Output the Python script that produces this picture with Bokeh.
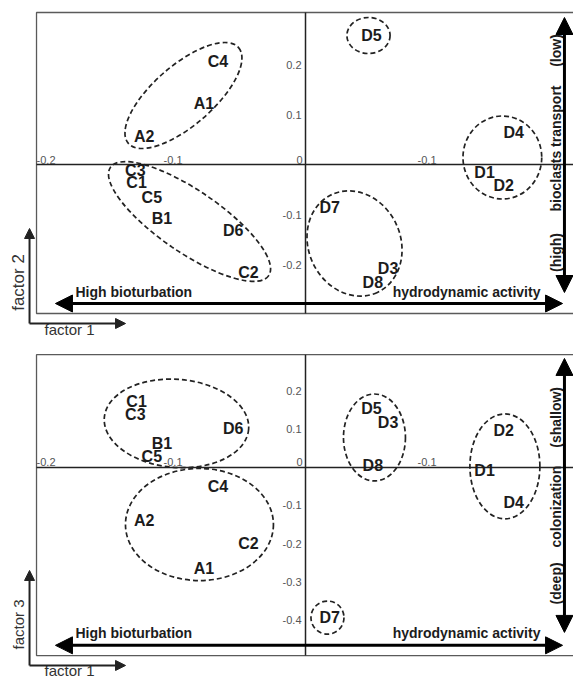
import math
from bokeh.plotting import figure
from bokeh.layouts import column
from bokeh.models import Range1d, Arrow, NormalHead, ColumnDataSource
from bokeh.core.properties import value
from bokeh.embed import file_html
from bokeh.resources import INLINE

# ---------------- data ----------------
samples = ["A1", "A2", "B1", "C1", "C2", "C3", "C4", "C5",
           "D1", "D2", "D3", "D4", "D5", "D6", "D7", "D8"]
factor1 = [-0.080, -0.127, -0.113, -0.133, -0.045, -0.134, -0.069, -0.121,
           0.141, 0.156, 0.065, 0.164, 0.052, -0.057, 0.019, 0.053]
factor2 = [0.122, 0.056, -0.108, -0.036, -0.216, -0.012, 0.206, -0.066,
           -0.016, -0.042, -0.208, 0.064, 0.258, -0.132, -0.086, -0.236]
factor3 = [-0.266, -0.139, 0.063, 0.174, -0.200, 0.139, -0.050, 0.029,
           -0.008, 0.097, 0.118, -0.092, 0.155, 0.103, -0.395, 0.005]

# group outlines (centre x, centre y, width, height, angle in rad)
groups12_x = [-0.0961, -0.0913, 0.0496, 0.155, 0.0386]
groups12_y = [0.138, -0.114, 0.258, 0.014, -0.158]
groups12_w = [0.115, 0.151, 0.034, 0.062, 0.085]
groups12_h = [0.120, 0.124, 0.072, 0.166, 0.184]
groups12_a = [0.716, -0.600, 0.0, 0.0, -1.134]

groups13_x = [-0.1016, -0.0835, 0.0543, 0.157, 0.0173]
groups13_y = [0.116, -0.150, 0.079, 0.003, -0.395]
groups13_w = [0.114, 0.1165, 0.0488, 0.0551, 0.026]
groups13_h = [0.232, 0.295, 0.229, 0.276, 0.087]
groups13_a = [-0.08, 0.0, 0.0, 0.0, 0.0]

xtick_vals = [-0.2, -0.1, 0.1]
xtick_labels = ["-0.2", "-0.1", "-0.1"]
origin_label = "0"
ytick_vals_top = [0.2, 0.1, -0.1, -0.2]
ytick_labels_top = ["0.2", "0.1", "-0.1", "-0.2"]
ytick_vals_bot = [0.2, 0.1, -0.1, -0.2, -0.3, -0.4]
ytick_labels_bot = ["0.2", "0.1", "-0.1", "-0.2", "-0.3", "-0.4"]

FONT = value("Liberation Sans")
DARK = "#1c1c1c"
XR = (-0.24016, 0.21102)


def make_panel(height, yr, fy, gx, gy, gw, gh, ga, ytv, ytl,
               frame_top, frame_bot, harrow_y, varrow, vlabels, ylabel,
               ylabel_size, mini):
    p = figure(width=573, height=height, output_backend="svg",
               toolbar_location=None, x_axis_type=None, y_axis_type=None,
               x_range=Range1d(*XR), y_range=Range1d(*yr),
               min_border=0, min_border_left=0, min_border_right=0,
               min_border_top=0, min_border_bottom=0)
    p.outline_line_color = None
    p.xgrid.visible = False
    p.ygrid.visible = False
    p.background_fill_color = "white"
    p.border_fill_color = "white"

    # frame box
    p.quad(left=[-0.2118], right=[0.2160], top=[frame_top], bottom=[frame_bot],
           fill_color=None, line_color="#5a5a5a", line_width=1.3)
    # central axes
    p.segment(x0=[-0.2118], y0=[0], x1=[0.2160], y1=[0], line_color="#222222", line_width=1.5)
    p.segment(x0=[0], y0=[frame_top], x1=[0], y1=[frame_bot], line_color="#222222", line_width=1.5)

    # tick labels
    p.text(x=xtick_vals, y=[0] * len(xtick_vals), text=xtick_labels,
           text_align="right", text_baseline="bottom", x_offset=4, y_offset=-1,
           text_font=FONT, text_font_size="11px", text_color="#555555")
    p.text(x=[0], y=[0], text=[origin_label], text_align="right", text_baseline="bottom",
           x_offset=-3, y_offset=-1, text_font=FONT, text_font_size="11px",
           text_color="#555555")
    p.text(x=[0] * len(ytv), y=ytv, text=ytl, text_align="right", text_baseline="middle",
           x_offset=-4, text_font=FONT, text_font_size="11px", text_color="#555555")

    # group ellipses
    p.ellipse(x=gx, y=gy, width=gw, height=gh, angle=ga, fill_color=None,
              line_color="#222222", line_width=1.7, line_dash="5 3")

    # sample labels
    src = ColumnDataSource(dict(x=factor1, y=fy, t=samples))
    p.text(x="x", y="y", text="t", source=src, text_align="center",
           text_baseline="middle", text_font=FONT, text_font_style="bold",
           text_font_size="16px", text_color=DARK)

    # big horizontal double arrow
    p.add_layout(Arrow(x_start=-0.1969, y_start=harrow_y, x_end=0.2024, y_end=harrow_y,
                       line_width=3, line_color="black",
                       start=NormalHead(size=17, fill_color="black", line_color="black"),
                       end=NormalHead(size=17, fill_color="black", line_color="black")))
    p.text(x=[-0.1811], y=[harrow_y], text=["High bioturbation"], text_align="left",
           text_baseline="bottom", y_offset=-4, text_font=FONT, text_font_style="bold",
           text_font_size="14px", text_color=DARK)
    p.text(x=[0.185], y=[harrow_y], text=["hydrodynamic activity"], text_align="right",
           text_baseline="bottom", y_offset=-4, text_font=FONT, text_font_style="bold",
           text_font_size="14px", text_color=DARK)

    # big vertical double arrow
    p.add_layout(Arrow(x_start=0.2039, y_start=varrow[1], x_end=0.2039, y_end=varrow[0],
                       line_width=3, line_color="black",
                       start=NormalHead(size=17, fill_color="black", line_color="black"),
                       end=NormalHead(size=17, fill_color="black", line_color="black")))
    p.text(x=[0.1976] * 3, y=[v[1] for v in vlabels], text=[v[0] for v in vlabels],
           angle=math.pi / 2, text_align="center", text_baseline="middle",
           text_font=FONT, text_font_style="bold", text_font_size="14px",
           text_color=DARK)

    # mini factor axes
    (vy0, vy1, hy, f1y, lab_y) = mini
    p.add_layout(Arrow(x_start=-0.2173, y_start=vy0, x_end=-0.2173, y_end=vy1,
                       line_width=2, line_color="#222222",
                       end=NormalHead(size=10, fill_color="#222222", line_color="#222222")))
    p.add_layout(Arrow(x_start=-0.2173, y_start=hy, x_end=-0.1417, y_end=hy,
                       line_width=2, line_color="#222222",
                       end=NormalHead(size=10, fill_color="#222222", line_color="#222222")))
    p.text(x=[-0.2262], y=[lab_y], text=[ylabel], angle=math.pi / 2,
           text_align="center", text_baseline="middle", text_font=FONT,
           text_font_size=ylabel_size, text_color="#333333")
    p.text(x=[-0.1858], y=[f1y], text=["factor 1"], text_align="center",
           text_baseline="middle", text_font=FONT, text_font_size="15px",
           text_color="#333333")
    return p


top = make_panel(338, (-0.348, 0.328), factor2,
                 groups12_x, groups12_y, groups12_w, groups12_h, groups12_a,
                 ytick_vals_top, ytick_labels_top, 0.304, -0.298, -0.278,
                 (0.294, -0.256),
                 [("(low)", 0.228), ("bioclasts transport", 0.032), ("(high)", -0.176)],
                 "factor 2", "17px",
                 (-0.318, -0.128, -0.318, -0.330, -0.236))

bottom = make_panel(340, (-0.55526, 0.33947), factor3,
                    groups13_x, groups13_y, groups13_w, groups13_h, groups13_a,
                    ytick_vals_bot, ytick_labels_bot, 0.297, -0.495, -0.468,
                    (0.287, -0.434),
                    [("(shallow)", 0.132), ("colonization", -0.103), ("(deep)", -0.305)],
                    "factor 3", "15px",
                    (-0.521, -0.271, -0.521, -0.534, -0.413))

layout = column(top, bottom, spacing=0)
open("out.html", "w").write(file_html(layout, INLINE))
